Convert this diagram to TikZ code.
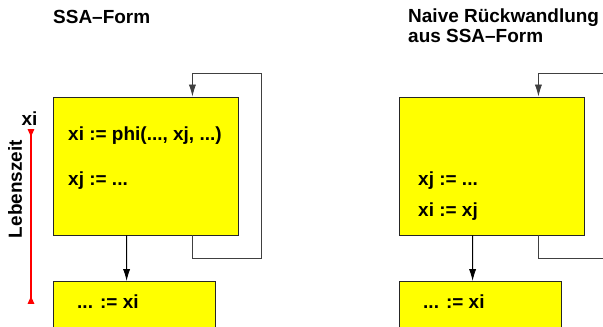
\documentclass[tikz,border=0pt]{standalone}
\usepackage{fontspec}
\setmainfont{Liberation Sans}
\usetikzlibrary{calc,arrows,arrows.meta}
\usepackage{xcolor}
\definecolor{boxyellow}{RGB}{255,255,0}

\begin{document}
\begin{tikzpicture}[font=\fontsize{18}{19.5}\selectfont\bfseries,
		>={Latex[length=4mm,width=2.4mm]},
		block/.style={draw=black!85, fill=boxyellow, line width=0.8pt, inner sep=0pt},
		lifetip/.tip={Triangle[reversed,length=2.6mm,width=2.2mm]}]
		\useasboundingbox (0,0) rectangle (20.1,-10.867);
		\clip (0,0) rectangle (20.1,-10.867);
		
		\node (titleA) at (1.767,-0.767) [anchor=base west, inner sep=0pt] {SSA--Form};
		\node (titleB) at (13.6,-1.433) [anchor=base west, align=left, inner sep=0pt] {Naive Rückwandlung\\aus SSA--Form};
		
		
		\node (ssa) at (4.85,-5.533) [block, minimum width=6.167cm, minimum height=4.6cm] {};
		\node (ssause) at (4.467,-9.367) [block, anchor=north, minimum width=5.4cm, minimum height=2cm] {};
		\node (phi) at (2.267,-4.683) [anchor=base west, inner sep=0pt] {xi := phi(..., xj, ...)};
		\node (defA) at (2.267,-6.167) [anchor=base west, inner sep=0pt] {xj := ...};
		\node (useA) at (2.567,-10.267) [anchor=base west, inner sep=0pt] {... := xi};
		
		\draw[->, line width=0.8pt] ([xshift=2.467cm]ssa.south west) -- ([xshift=2.467cm]ssause.north west);
		\draw[->, line width=0.8pt, black!75] ([xshift=-1.533cm]ssa.south east) -- ++(0,-0.767) -- ++(2.3,0) |- ([xshift=-1.533cm,yshift=0.767cm]ssa.north east) -- ([xshift=-1.533cm]ssa.north east);
		
		\coordinate (lifetop) at (1.033,-4.3);
		\coordinate (lifebot) at (1.033,-10.133);
		\draw[red, line width=1.2pt, lifetip-lifetip] (lifetop) -- (lifebot);
		\node (xi) at (0.983,-4.19) [anchor=base, inner sep=0pt] {xi};
		\node (life) at (0.733,-6.3) [anchor=base, rotate=90, inner sep=0pt] {Lebenszeit};
		
		
		\node (naive) at (16.383,-5.533) [block, minimum width=6.167cm, minimum height=4.6cm] {};
		\node (naiveuse) at (16.0,-9.367) [block, anchor=north, minimum width=5.4cm, minimum height=2cm] {};
		\node (defB) at (13.933,-6.167) [anchor=base west, inner sep=0pt] {xj := ...};
		\node (copy) at (13.933,-7.233) [anchor=base west, inner sep=0pt] {xi := xj};
		\node (useB) at (14.1,-10.267) [anchor=base west, inner sep=0pt] {... := xi};
		
		\draw[->, line width=0.8pt] ([xshift=2.467cm]naive.south west) -- ([xshift=2.467cm]naiveuse.north west);
		\draw[->, line width=0.8pt, black!75] ([xshift=-1.533cm]naive.south east) -- ++(0,-0.767) -- ++(2.3,0) |- ([xshift=-1.533cm,yshift=0.767cm]naive.north east) -- ([xshift=-1.533cm]naive.north east);
	\end{tikzpicture}
\end{document}
